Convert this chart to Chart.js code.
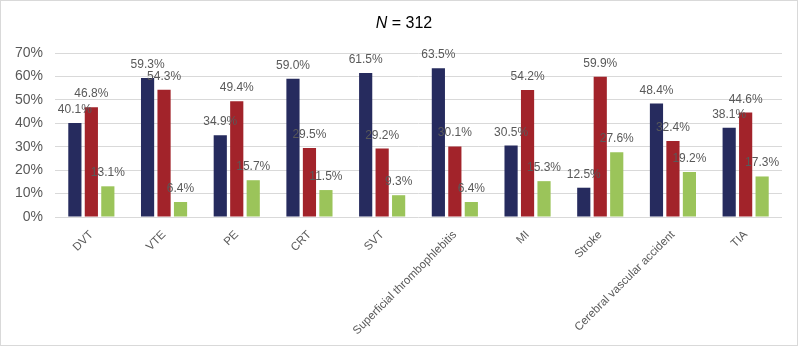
<!DOCTYPE html>
<html>
<head>
<meta charset="utf-8">
<script src="https://cdn.jsdelivr.net/npm/chart.js@4"></script>
<style>
  html, body { margin: 0; padding: 0; background: #fff; }
  #box {
    position: absolute; left: 0; top: 0;
    width: 796px; height: 344px;
    border: 1px solid #d9d9d9;
  }
</style>
</head>
<body>
<div id="box"><canvas id="chart" width="796" height="344"></canvas></div>
<script>
const categories = ['DVT', 'VTE', 'PE', 'CRT', 'SVT', 'Superficial thrombophlebitis', 'MI', 'Stroke', 'Cerebral vascular accident', 'TIA'];
const seriesNavy  = [40.1, 59.3, 34.9, 59.0, 61.5, 63.5, 30.5, 12.5, 48.4, 38.1];
const seriesRed   = [46.8, 54.3, 49.4, 29.5, 29.2, 30.1, 54.2, 59.9, 32.4, 44.6];
const seriesGreen = [13.1, 6.4, 15.7, 11.5, 9.3, 6.4, 15.3, 27.6, 19.2, 17.3];
const yTicks = [0, 10, 20, 30, 40, 50, 60, 70];

const textColor = '#595959';
const gridColor = '#d9d9d9';

// etykiety nad słupkami
const valueLabels = {
    id: 'valueLabels',
    afterDatasetsDraw(chart) {
        const ctx = chart.ctx;
        ctx.save();
        ctx.font = '12px "Liberation Sans", Arial, sans-serif';
        ctx.fillStyle = textColor;
        ctx.textAlign = 'center';
        ctx.textBaseline = 'alphabetic';
        chart.data.datasets.forEach((ds, i) => {
            const meta = chart.getDatasetMeta(i);
            meta.data.forEach((bar, j) => {
                ctx.fillText(ds.data[j].toFixed(1) + '%', bar.x, bar.y - 10);
            });
        });
        ctx.restore();
    }
};

// tytuł z kursywą N
const nTitle = {
    id: 'nTitle',
    afterDraw(chart) {
        const ctx = chart.ctx;
        ctx.save();
        ctx.fillStyle = '#000';
        ctx.textBaseline = 'middle';
        const italic = 'italic 16px "Liberation Sans", Arial, sans-serif';
        const normal = '16px "Liberation Sans", Arial, sans-serif';
        ctx.font = italic;
        const w1 = ctx.measureText('N').width;
        ctx.font = normal;
        const rest = ' = 312';
        const w2 = ctx.measureText(rest).width;
        const x0 = chart.width / 2 + 5 - (w1 + w2) / 2;
        const y = 23;
        ctx.font = italic;
        ctx.textAlign = 'left';
        ctx.fillText('N', x0, y);
        ctx.font = normal;
        ctx.fillText(rest, x0 + w1, y);
        ctx.restore();
    }
};

new Chart(document.getElementById('chart'), {
    type: 'bar',
    data: {
        labels: categories,
        datasets: [
            { data: seriesNavy, backgroundColor: '#262B5E' },
            { data: seriesRed, backgroundColor: '#A2232A' },
            { data: seriesGreen, backgroundColor: '#9BC45A' }
        ]
    },
    options: {
        responsive: false,
        animation: false,
        devicePixelRatio: 1,
        categoryPercentage: 0.68,
        barPercentage: 0.8,
        layout: { padding: { top: 52, right: 15, left: 0, bottom: 0 } },
        plugins: {
            legend: { display: false },
            tooltip: { enabled: false },
            title: { display: false }
        },
        scales: {
            x: {
                grid: { display: false },
                border: { display: false },
                ticks: {
                    color: textColor,
                    font: { family: '"Liberation Sans", Arial, sans-serif', size: 11.5 },
                    minRotation: 45,
                    maxRotation: 45,
                    autoSkip: false,
                    padding: 3
                },
                afterFit(scale) { scale.height = 128; }
            },
            y: {
                min: 0,
                max: 70,
                afterBuildTicks(scale) { scale.ticks = yTicks.map(v => ({ value: v })); },
                grid: { color: gridColor, drawTicks: false, lineWidth: 1 },
                border: { display: false },
                ticks: {
                    color: textColor,
                    font: { family: '"Liberation Sans", Arial, sans-serif', size: 14 },
                    padding: 12,
                    callback: v => v + '%'
                },
                afterFit(scale) { scale.width = 54; }
            }
        }
    },
    plugins: [valueLabels, nTitle]
});
</script>
</body>
</html>
